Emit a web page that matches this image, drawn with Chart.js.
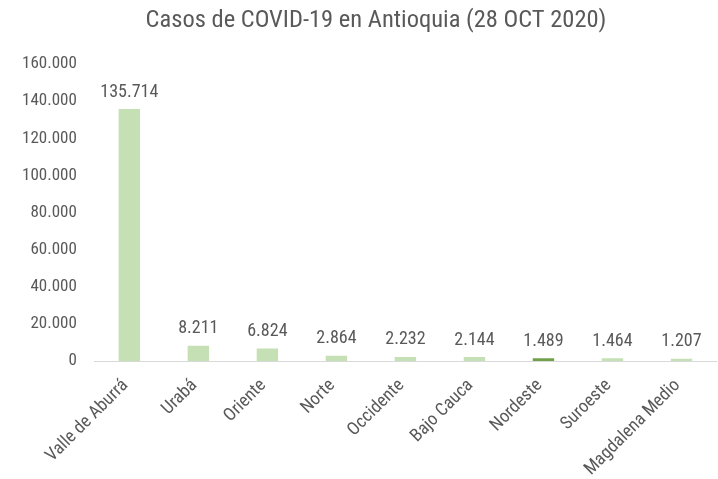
<!DOCTYPE html>
<html>
<head>
<meta charset="utf-8">
<script src="https://cdn.jsdelivr.net/npm/chart.js@4"></script>
<style>
  html,body{margin:0;padding:0;background:#fff;}
  #wrap{width:718px;height:479px;position:relative;}
</style>
</head>
<body>
<div id="wrap"><canvas id="c"></canvas></div>
<script>
const regiones = ['Valle de Aburrá','Urabá','Oriente','Norte','Occidente','Bajo Cauca','Nordeste','Suroeste','Magdalena Medio'];
const casos = [135714, 8211, 6824, 2864, 2232, 2144, 1489, 1464, 1207];
const colores = ['#c5e0b4','#c5e0b4','#c5e0b4','#c5e0b4','#c5e0b4','#c5e0b4','#70a14a','#c5e0b4','#c5e0b4'];
const titulo = 'Casos de COVID-19 en Antioquia (28 OCT 2020)';

const FONT = '"Liberation Sans Narrow", "Arial Narrow", "Roboto Condensed", sans-serif';
const GRIS = '#595959';

function miles(n){ return String(n).replace(/\B(?=(\d{3})+(?!\d))/g, '.'); }

// título y etiquetas de valor encima de cada barra
const etiquetas = {
  id:'etiquetas',
  afterDatasetsDraw(chart){
    const ctx = chart.ctx;
    const meta = chart.getDatasetMeta(0);
    ctx.save();
    ctx.fillStyle = GRIS;
    ctx.textAlign = 'center';
    ctx.font = '24.5px ' + FONT;
    ctx.textBaseline = 'middle';
    ctx.fillText(titulo, 376, 21);
    ctx.font = '18px ' + FONT;
    ctx.textBaseline = 'bottom';
    meta.data.forEach((bar,i)=>{
      ctx.fillText(miles(casos[i]), bar.x, bar.y - 8);
    });
    ctx.restore();
  }
};

new Chart(document.getElementById('c'), {
  type:'bar',
  data:{
    labels: regiones,
    datasets:[{ data: casos, backgroundColor: colores, barPercentage:0.31, categoryPercentage:1 }]
  },
  options:{
    responsive:true,
    maintainAspectRatio:false,
    animation:false,
    layout:{ padding:{ left:4, right:2, top:64, bottom:-15 } },
    plugins:{
      legend:{ display:false },
      tooltip:{ enabled:false },
      title:{ display:false }
    },
    scales:{
      x:{
        grid:{ display:false, drawTicks:false },
        border:{ color:'#d9d9d9', width:1 },
        ticks:{ color:GRIS, font:{ family:FONT, size:18 }, maxRotation:45, minRotation:45, padding:14, labelOffset:-4 }
      },
      y:{
        min:0, max:160000,
        grid:{ display:false, drawTicks:false },
        border:{ display:false },
        ticks:{ stepSize:20000, color:GRIS, font:{ family:FONT, size:17 }, padding:18, callback:v=>miles(v) }
      }
    }
  },
  plugins:[etiquetas]
});
</script>
</body>
</html>
